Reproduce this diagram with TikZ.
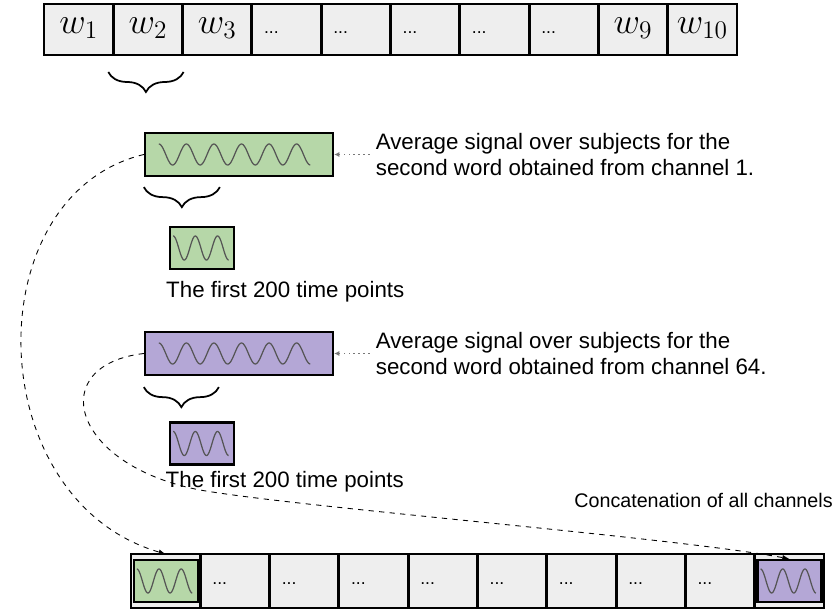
\documentclass[tikz,border=0pt]{standalone}
\usepackage{fontspec}
\setmainfont{Liberation Sans}
\usepackage{amsmath}
\usepackage{tikz}
\usetikzlibrary{calc,decorations.pathreplacing,arrows.meta}
\definecolor{cellgray}{RGB}{238, 238, 238}
\definecolor{chgreen}{RGB}{182, 215, 168}
\definecolor{chpurple}{RGB}{180, 167, 214}
\definecolor{wavegray}{RGB}{85, 85, 85}
\definecolor{arrowgray}{RGB}{120, 120, 120}

% sine trace inside a box: node, offset, length, periods, amplitude
\newcommand{\drawwave}[5]{%
  \draw[wave, shift={(#1.west)}] plot[domain=0:#3, samples=150] ({#2+\x}, {#5*cos(360*#4*\x/#3)});
}

\tikzset{
  cell/.style={draw=black, line width=1.6pt, fill=cellgray, minimum width=1.386cm,
    minimum height=1.02cm, inner sep=0pt, outer sep=0pt, text height=0.25cm, text depth=0.1cm},
  wcell/.style={cell, font=\huge},
  dotcell/.style={cell, text width=0.9cm, align=left},
  chbox/.style={draw=black, line width=1.3pt, inner sep=0pt, minimum height=0.86cm},
  sigbox/.style={chbox, minimum width=3.76cm},
  cutbox/.style={chbox, minimum width=1.28cm, minimum height=0.84cm},
  wave/.style={wavegray, line width=0.7pt},
  note/.style={align=left, font=\fontsize{12.7}{14.8}\selectfont},
  link/.style={dashed, line width=0.5pt, -{Latex[length=4pt,width=3pt]}},
  pointer/.style={arrowgray, dotted, line width=0.8pt, -{Latex[length=3pt,width=3pt]}},
  braceline/.style={decorate, decoration={brace, mirror, amplitude=0.4cm}, line width=1pt}
}

\begin{document}
\begin{tikzpicture}
  \useasboundingbox (0,0) rectangle (16.74,-12.22);

  % words of the sentence
  \foreach \i in {1,2,3,9,10}
    \node[wcell] (w\i) at ({0.88+1.386*(\i-0.5)}, -0.59) {$w_{\i}$};
  \foreach \i in {4,...,8}
    \node[dotcell] (w\i) at ({0.88+1.386*(\i-0.5)}, -0.59) {...};
  \draw[braceline] ($(w2.south west)+(-0.1,-0.34)$) -- ($(w2.south east)+(0.02,-0.34)$);

  % channel 1
  \node[sigbox, fill=chgreen] (avg1) at (4.78,-3.09) {};
  \drawwave{avg1}{0.3}{3.03}{5.5}{0.21}
  \node[note, anchor=west] (note1) at ($(avg1.east)+(0.71,0)$)
    {Average signal over subjects for the\\second word obtained from channel 1.};
  \draw[pointer] (note1.west) -- (avg1.east);
  \draw[braceline] ($(avg1.south west)+(0,-0.2)$) -- ($(avg1.south west)+(1.52,-0.2)$);
  \node[cutbox, fill=chgreen] (cut1) at (4.04,-4.96) {};
  \drawwave{cut1}{0.086}{1.11}{2.5}{0.24}
  \node[note, anchor=west] (first1) at (3.2,-5.84) {The first 200 time points};

  % channel 64
  \node[sigbox, fill=chpurple] (avg64) at (4.78,-7.07) {};
  \drawwave{avg64}{0.3}{3.03}{5.5}{0.21}
  \node[note, anchor=west] (note64) at ($(avg64.east)+(0.71,0)$)
    {Average signal over subjects for the\\second word obtained from channel 64.};
  \draw[pointer] (note64.west) -- (avg64.east);
  \draw[braceline] ($(avg64.south west)+(0,-0.22)$) -- ($(avg64.south west)+(1.5,-0.22)$);
  \node[cutbox, fill=chpurple] (cut64) at (4.04,-8.87) {};
  \drawwave{cut64}{0.086}{1.11}{2.5}{0.24}
  \node[note, anchor=west] (first64) at (3.19,-9.64) {The first 200 time points};

  % concatenated vector
  \node[note, font=\fontsize{11.2}{13.4}\selectfont, anchor=east, inner sep=0pt] (concat) at (16.66,-10.0)
    {Concatenation of all channels};
  \foreach \i in {1,10}
    \node[cell, minimum height=1.08cm] (cat\i) at ({2.62+1.386*(\i-0.5)}, -11.62) {};
  \foreach \i in {2,...,9}
    \node[dotcell, minimum height=1.08cm] (cat\i) at ({2.62+1.386*(\i-0.5)}, -11.62) {...};
  \node[cutbox, fill=chgreen] (in1) at (cat1) {};
  \drawwave{in1}{0.086}{1.11}{2.5}{0.24}
  \node[cutbox, fill=chpurple] (in64) at (cat10) {};
  \drawwave{in64}{0.086}{1.11}{2.5}{0.24}

  \draw[link] (avg1.west) .. controls (-0.5,-3.9) and (-0.4,-10.0) .. (cat1.north);
  \draw[link] (avg64.west) .. controls (0.9,-7.3) and (1.4,-9.3) .. (4.0,-9.8)
    .. controls (6.0,-10.15) and (13.5,-10.75) .. (in64.north);
\end{tikzpicture}
\end{document}
